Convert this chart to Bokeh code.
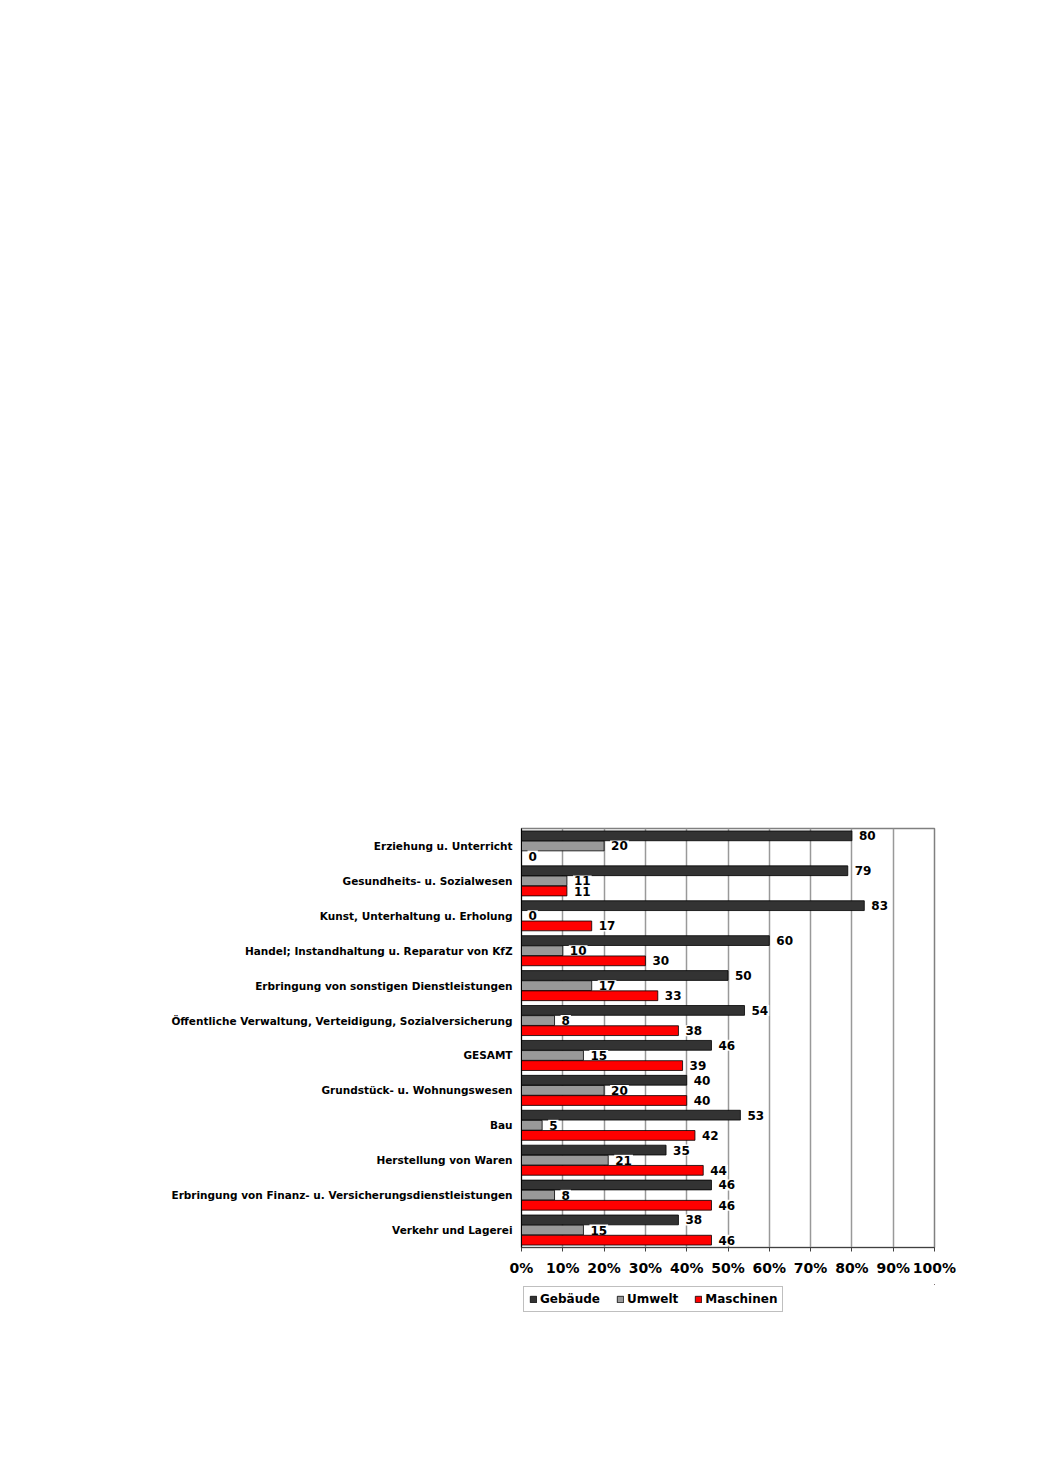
from bokeh.plotting import figure
from bokeh.layouts import column
from bokeh.models import (FactorRange, Range1d, Legend, LegendItem, ColumnDataSource,
                          PrintfTickFormatter, FixedTicker)
from bokeh.transform import dodge
from bokeh.core.properties import value
from bokeh.embed import file_html
from bokeh.resources import INLINE

categories = [
    "Erziehung u. Unterricht",
    "Gesundheits- u. Sozialwesen",
    "Kunst, Unterhaltung u. Erholung",
    "Handel; Instandhaltung u. Reparatur von KfZ",
    "Erbringung von sonstigen Dienstleistungen",
    "Öffentliche Verwaltung, Verteidigung, Sozialversicherung",
    "GESAMT",
    "Grundstück- u. Wohnungswesen",
    "Bau",
    "Herstellung von Waren",
    "Erbringung von Finanz- u. Versicherungsdienstleistungen",
    "Verkehr und Lagerei",
]
gebaeude = [80, 79, 83, 60, 50, 54, 46, 40, 53, 35, 46, 38]
umwelt = [20, 11, 0, 10, 17, 8, 15, 20, 5, 21, 8, 15]
maschinen = [0, 11, 17, 30, 33, 38, 39, 40, 42, 44, 46, 46]
series_names = ["Gebäude", "Umwelt", "Maschinen"]
x_ticks = list(range(0, 101, 10))

FONT = "DejaVu Sans"
colors = ["#333333", "#999999", "#ff0000"]
offsets = [0.29, 0.0, -0.29]
series_vals = [gebaeude, umwelt, maschinen]

p = figure(width=1040, height=1280,
           y_range=FactorRange(factors=list(reversed(categories))),
           x_range=Range1d(0, 100),
           output_backend="svg", toolbar_location=None,
           min_border_left=521, min_border_right=106,
           min_border_top=828, min_border_bottom=33)

p.outline_line_color = "#808080"
p.outline_line_width = 1.5
p.background_fill_color = "white"
p.border_fill_color = "white"

p.xgrid.ticker = FixedTicker(ticks=x_ticks)
p.xgrid.grid_line_color = "#999999"
p.xgrid.grid_line_width = 1.5
p.ygrid.grid_line_color = None

for name, vals, col, off in zip(series_names, series_vals, colors, offsets):
    src = ColumnDataSource(dict(cat=categories, v=vals, lbl=[str(v) for v in vals]))
    p.hbar(y=dodge("cat", off, range=p.y_range), right="v", left=0, height=0.28,
           source=src, fill_color=col, line_color="black", line_width=0.8)
    p.text(x="v", y=dodge("cat", off, range=p.y_range), text="lbl", source=src,
           x_offset=6, text_baseline="middle", text_align="left",
           text_font=value(FONT), text_font_style="bold", text_font_size="12px",
           text_color="black", background_fill_color="white", padding=1)

p.xaxis.ticker = FixedTicker(ticks=x_ticks)
p.xaxis.formatter = PrintfTickFormatter(format="%d%%")
p.xaxis.major_label_text_font = FONT
p.xaxis.major_label_text_font_style = "bold"
p.xaxis.major_label_text_font_size = "14px"
p.xaxis.major_label_text_color = "black"
p.xaxis.major_tick_out = 4
p.xaxis.major_tick_in = 0
p.xaxis.minor_tick_line_color = None
p.xaxis.major_label_standoff = 8
p.xaxis.axis_line_color = "#404040"
p.xaxis.major_tick_line_color = "#404040"

p.yaxis.major_label_text_font = FONT
p.yaxis.major_label_text_font_style = "bold"
p.yaxis.major_label_text_font_size = "10.5px"
p.yaxis.major_label_text_color = "black"
p.yaxis.major_tick_line_color = None
p.yaxis.major_tick_out = 0
p.yaxis.major_tick_in = 0
p.yaxis.major_label_standoff = 9
p.yaxis.axis_line_color = "black"

# legend strip below the chart (sample bars sit outside its visible range)
lg = figure(width=1040, height=191, x_range=Range1d(0, 1), y_range=Range1d(0, 1),
            output_backend="svg", toolbar_location=None,
            x_axis_type=None, y_axis_type=None,
            min_border_left=521, min_border_right=106,
            min_border_top=4, min_border_bottom=100)
lg.outline_line_color = None
lg.grid.visible = False
lg.border_fill_color = "white"
lg.background_fill_color = "white"

dummy = []
for col in colors:
    dummy.append(lg.hbar(y=[20], right=[21], left=20, height=0.1,
                         fill_color=col, line_color="black", line_width=0.8))

legend = Legend(items=[LegendItem(label=n, renderers=[r]) for n, r in zip(series_names, dummy)],
                orientation="horizontal", location="top_left",
                label_text_font=FONT, label_text_font_style="bold", label_text_font_size="12px",
                label_text_color="black",
                glyph_width=8, glyph_height=8, label_standoff=3, label_height=12,
                spacing=16, padding=5, margin=2,
                border_line_color="#808080", border_line_width=1.2,
                background_fill_color="white", background_fill_alpha=1.0)
lg.add_layout(legend, "center")

layout = column(p, lg, spacing=0)
open("out.html", "w").write(file_html(layout, INLINE))
